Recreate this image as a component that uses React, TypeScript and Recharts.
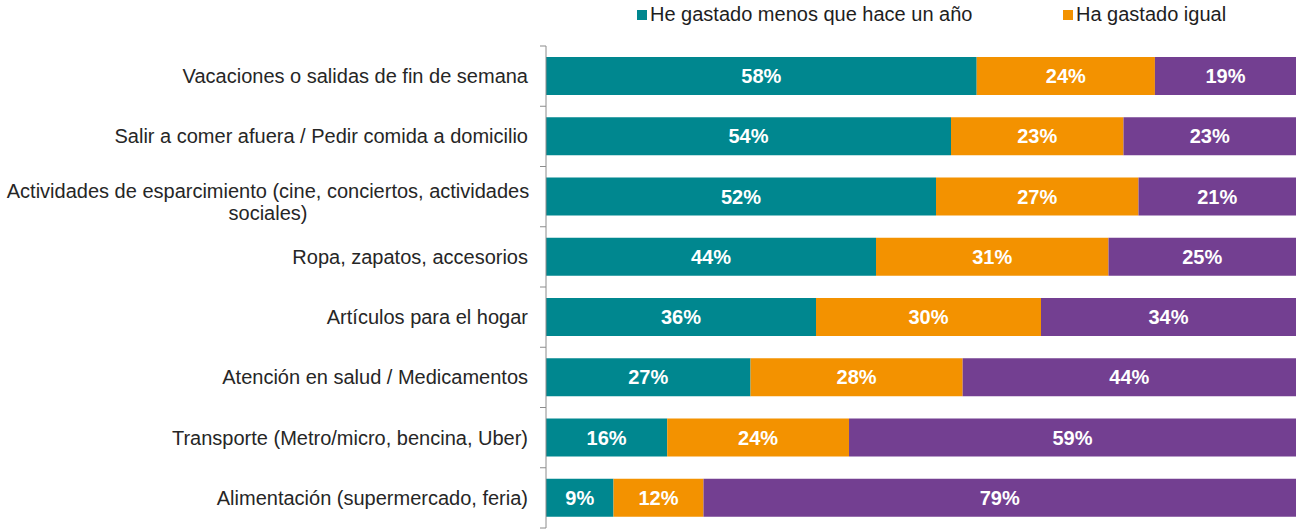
import { BarChart, Bar, XAxis, YAxis, LabelList } from 'recharts';

const categories = [
  'Vacaciones o salidas de fin de semana',
  'Salir a comer afuera / Pedir comida a domicilio',
  'Actividades de esparcimiento (cine, conciertos, actividades\nsociales)',
  'Ropa, zapatos, accesorios',
  'Artículos para el hogar',
  'Atención en salud / Medicamentos',
  'Transporte (Metro/micro, bencina, Uber)',
  'Alimentación (supermercado, feria)',
];

const menos = [58, 54, 52, 44, 36, 27, 16, 9];
const igual = [24, 23, 27, 31, 30, 28, 24, 12];
const mas = [19, 23, 21, 25, 34, 44, 59, 79];

const seriesNames = ['He gastado menos que hace un año', 'Ha gastado igual', 'Ha gastado más'];
const colors = ['#00878f', '#f39200', '#733f91'];

const data = categories.map((name, i) => ({
  name,
  menos: menos[i],
  igual: igual[i],
  mas: mas[i],
}));

const W = 1297;
const H = 529;
const margin = { top: 46, right: 1, bottom: 1, left: 0 };
const axisWidth = 546;
const band = (H - margin.top - margin.bottom) / categories.length;
const font = '"Liberation Sans", Arial, sans-serif';
const axisColor = '#8c8c8c';

function CategoryTick({ x, y, payload, index }: any) {
  const lines: string[] = String(payload.value).split('\n');
  const right = x - 10;
  const axisX = x + 8;
  const cx = right - 260;
  return (
    <g>
      {/* tick marks sit between categories, as in Excel */}
      <line x1={axisX - 6} x2={axisX} y1={y - band / 2} y2={y - band / 2} stroke={axisColor} />
      {index === categories.length - 1 && (
        <line x1={axisX - 6} x2={axisX} y1={y + band / 2} y2={y + band / 2} stroke={axisColor} />
      )}
      {lines.length === 1 ? (
        <text x={right} y={y + 7} textAnchor="end" fontSize={20} fill="#262626" fontFamily={font}>
          {lines[0]}
        </text>
      ) : (
        <text x={cx} y={y + 1} textAnchor="middle" fontSize={20} fill="#262626" fontFamily={font}>
          {lines.map((l, i) => (
            <tspan key={i} x={cx} dy={i === 0 ? 0 : 22}>
              {l}
            </tspan>
          ))}
        </text>
      )}
    </g>
  );
}

const pct = (v: any) => `${v}%`;

export default function App() {
  return (
    <div style={{ position: 'absolute', top: 0, left: 0, width: W, height: H, background: '#fff', fontFamily: font, overflow: 'hidden' }}>
      <div style={{ position: 'absolute', top: 3, left: 637, display: 'flex', fontSize: 20, color: '#1e1e1e', whiteSpace: 'nowrap' }}>
        {seriesNames.slice(0, 2).map((n, i) => (
          <div key={n} style={{ display: 'flex', alignItems: 'center', width: i === 0 ? 426 : 'auto' }}>
            <span style={{ width: 10, height: 10, background: colors[i], display: 'inline-block', marginRight: 3 }} />
            <span>{n}</span>
          </div>
        ))}
      </div>
      <BarChart
        width={W}
        height={H}
        data={data}
        layout="vertical"
        barSize={38}
        stackOffset="expand"
        margin={margin}
      >
        <XAxis type="number" domain={[0, 1]} allowDataOverflow hide />
        <YAxis
          type="category"
          dataKey="name"
          width={axisWidth}
          axisLine={{ stroke: axisColor }}
          tickLine={false}
          interval={0}
          tick={<CategoryTick />}
        />
        <Bar dataKey="menos" name={seriesNames[0]} stackId="a" fill={colors[0]} isAnimationActive={false}>
          <LabelList dataKey="menos" position="center" formatter={pct} fill="#fff" fontSize={20} fontWeight="bold" fontFamily={font} />
        </Bar>
        <Bar dataKey="igual" name={seriesNames[1]} stackId="a" fill={colors[1]} isAnimationActive={false}>
          <LabelList dataKey="igual" position="center" formatter={pct} fill="#fff" fontSize={20} fontWeight="bold" fontFamily={font} />
        </Bar>
        <Bar dataKey="mas" name={seriesNames[2]} stackId="a" fill={colors[2]} isAnimationActive={false}>
          <LabelList dataKey="mas" position="center" formatter={pct} fill="#fff" fontSize={20} fontWeight="bold" fontFamily={font} />
        </Bar>
      </BarChart>
    </div>
  );
}
